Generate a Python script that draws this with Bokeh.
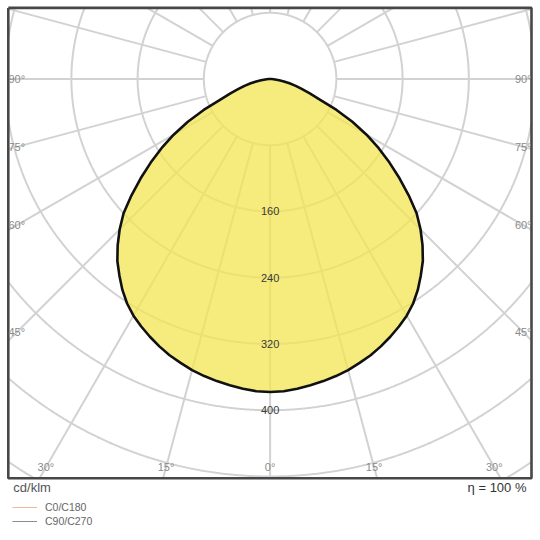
import numpy as np
from bokeh.plotting import figure
from bokeh.models import Range1d, ColumnDataSource, Legend, LegendItem
from bokeh.core.properties import value
from bokeh.embed import file_html
from bokeh.resources import INLINE

# luminous intensity (cd/klm) against gamma angle
gamma = [0, 2.5, 5, 7.5, 10, 12.5, 15, 17.5, 20, 22.5, 25, 27.5, 30, 32.5, 35, 37.5,
         40, 42.5, 45, 47.5, 50, 52.5, 55, 57.5, 60, 62.5, 65, 67.5, 70, 72.5, 75,
         77.5, 80, 82.5, 85, 87.5, 90]
c0_c180 = [378, 377.5, 375.5, 373, 370.5, 367.5, 364, 359.5, 355, 349.5, 343.5, 337, 330,
           321.5, 311, 299, 287, 272.5, 257, 240, 218.5, 197, 176, 155.5, 134.5, 112, 88.5,
           65, 51, 40, 32, 24, 17, 11, 6, 2, 0]
c90_c270 = [378, 377.5, 375.5, 373, 370.5, 367.5, 364, 359.5, 355, 349.5, 343.5, 337, 330,
            321.5, 311, 299, 287, 272.5, 257, 240, 218.5, 197, 176, 155.5, 134.5, 112, 88.5,
            65, 51, 40, 32, 24, 17, 11, 6, 2, 0]

rings = [80, 160, 240, 320, 400, 480, 560]
ring_labels = ["160", "240", "320", "400"]
spoke_angles = list(range(0, 360, 15))
side_angles = [90, 75, 60, 45]
bottom_angles = [-30, -15, 0, 15, 30]
efficiency = "η = 100 %"
unit_label = "cd/klm"

FONT = value("Liberation Sans")
W = H = 536
S = 0.828            # px per cd/klm
CX, CY = 269.6, 78.5  # pole position inside the frame, px

p = figure(width=W, height=H, output_backend="svg", toolbar_location=None, tools="",
           x_range=Range1d(-CX / S, (W - CX) / S), y_range=Range1d(-(H - CY) / S, CY / S),
           x_axis_location=None, y_axis_location=None, min_border=0)
p.grid.visible = False
p.outline_line_color = None

# frame of the diagram
L, R = (7.8 - CX) / S, (531.0 - CX) / S
T, B = (CY - 7.4) / S, (CY - 477.8) / S


def inside(x, y):
    return (x > L) & (x < R) & (y > B) & (y < T)


# rings, clipped to the frame
for r in rings:
    t = np.radians(np.arange(0, 360.25, 0.25))
    x = r * np.sin(t)
    y = -r * np.cos(t)
    m = ~inside(x, y)
    x[m] = np.nan
    y[m] = np.nan
    p.line(x, y, line_color="#d2d2d2", line_width=2)

# spokes from the first ring out to the frame
xs, ys = [], []
for a in spoke_angles:
    dx, dy = np.sin(np.radians(a)), -np.cos(np.radians(a))
    ends = []
    if dx > 1e-9: ends.append(R / dx)
    if dx < -1e-9: ends.append(L / dx)
    if dy > 1e-9: ends.append(T / dy)
    if dy < -1e-9: ends.append(B / dy)
    t_end = min(ends)
    xs.append([rings[0] * dx, t_end * dx])
    ys.append([rings[0] * dy, t_end * dy])
p.multi_line(xs, ys, line_color="#d2d2d2", line_width=2)


def curve(vals):
    g = np.radians(gamma)
    v = np.array(vals, dtype=float)
    x = np.concatenate([-(v * np.sin(g))[::-1], (v * np.sin(g))[1:]])
    y = np.concatenate([-(v * np.cos(g))[::-1], -(v * np.cos(g))[1:]])
    return x, y


x0, y0 = curve(c0_c180)
x9, y9 = curve(c90_c270)
r0 = p.line(x0, y0, line_color="#f2b49a", line_width=1)
r9 = p.line(x9, y9, line_color="#8c8c8c", line_width=1)
p.patch(x0, y0, fill_color="#f3e451", fill_alpha=0.75, line_color="#111111",
        line_width=2.6, line_join="round")

# frame
p.line([L, R, R, L, L], [T, T, B, B, T], line_color="#474747", line_width=2.6)

# angle labels along the frame
lx, ly, lt = [], [], []
for a in side_angles:
    for side in (-1, 1):
        xc = L + 8.5 / S if side < 0 else R - 8.3 / S
        lx.append(xc)
        ly.append(-abs(xc) / np.tan(np.radians(a)) if a != 90 else 0)
        lt.append(f"{a}°")
for a in bottom_angles:
    yc = B + 11 / S
    lx.append(-yc * np.tan(np.radians(a)))
    ly.append(yc)
    lt.append(f"{abs(a)}°")
p.text(x="x", y="y", text="t", source=ColumnDataSource(dict(x=lx, y=ly, t=lt)),
       text_align="center", text_baseline="middle", text_font=FONT,
       text_font_size="11px", text_color="#8a8a8a")

# intensity labels on the vertical axis
p.text(x=[0] * len(ring_labels), y=[-float(s) for s in ring_labels], text=ring_labels,
       text_align="center", text_baseline="middle", text_font=FONT,
       text_font_size="11px", text_color="#3a3a3a")

p.text(x=[L + 5 / S], y=[B - 9.5 / S], text=[unit_label], text_align="left",
       text_baseline="middle", text_font=FONT, text_font_size="13px", text_color="#555555")
p.text(x=[R - 5 / S], y=[B - 9.5 / S], text=[efficiency], text_align="right",
       text_baseline="middle", text_font=FONT, text_font_size="13px", text_color="#333333")

legend = Legend(items=[LegendItem(label="C0/C180", renderers=[r0]),
                       LegendItem(label="C90/C270", renderers=[r9])],
                location=(12, 8), orientation="vertical", glyph_width=25, glyph_height=14,
                label_height=14, label_standoff=8, spacing=0, padding=0, margin=0,
                border_line_color=None, background_fill_alpha=0,
                label_text_font="Liberation Sans", label_text_font_size="10.5px",
                label_text_color="#666666")
p.add_layout(legend)

open("out.html", "w").write(file_html(p, INLINE))
